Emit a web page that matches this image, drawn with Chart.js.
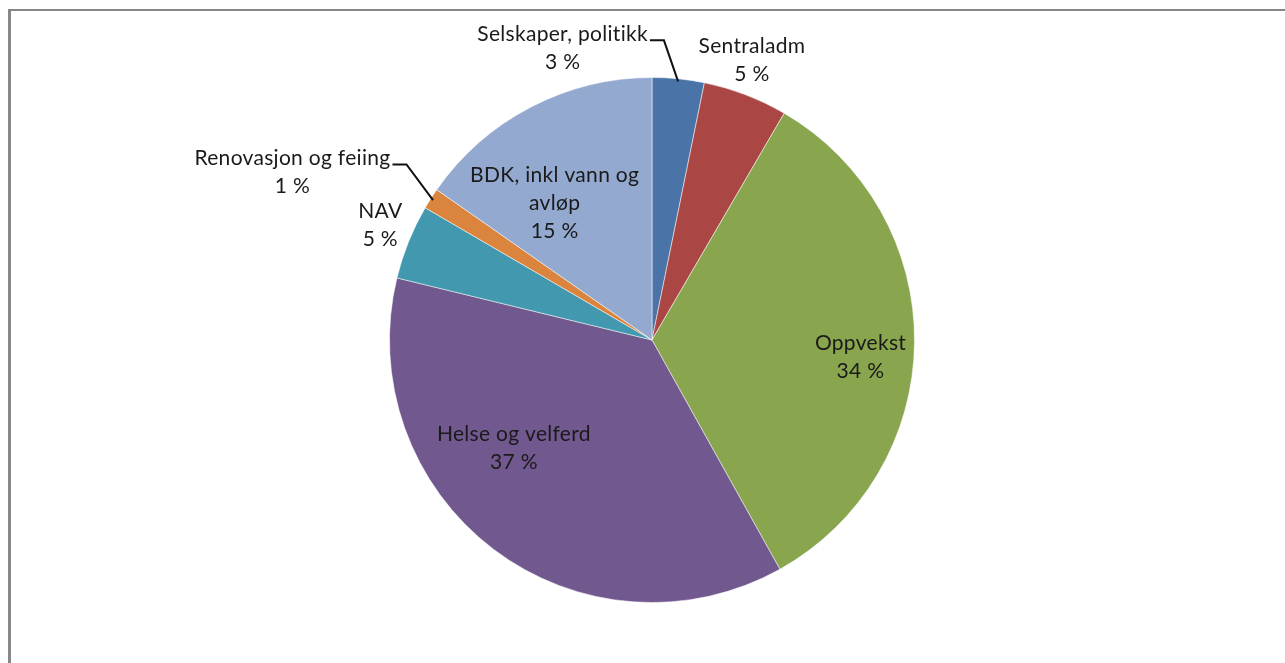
<!DOCTYPE html>
<html>
<head>
<meta charset="utf-8">
<script src="https://cdn.jsdelivr.net/npm/chart.js@4"></script>
<style>
  body { margin: 0; background: #fff; overflow: hidden; }
  #wrap { position: absolute; left: 0; top: 0; width: 1285px; height: 663px; }
  #frame { position: absolute; left: 8px; top: 9px; width: 1300px; height: 700px;
           border-left: 3px solid #878787; border-top: 2px solid #878787; }
  canvas { position: absolute; left: 0; top: 0; }
</style>
</head>
<body>
<div id="wrap">
  <div id="frame"></div>
  <canvas id="myChart" width="1285" height="663"></canvas>
</div>
<script>
// Categories and shares (percent)
const categories = ['Selskaper, politikk', 'Sentraladm', 'Oppvekst', 'Helse og velferd', 'NAV', 'Renovasjon og feiing', 'BDK, inkl vann og avløp'];
const shares = [3.2, 5.2, 33.5, 36.9, 4.6, 1.3, 15.3];
const sliceColors = ['#4A73A8', '#AA4643', '#89A54E', '#71588F', '#4198AF', '#DB843D', '#93A9CF'];

// How each label is written and where it sits relative to its slice
const labelLines = [['Selskaper, politikk'], ['Sentraladm'], ['Oppvekst'], ['Helse og velferd'], ['NAV'], ['Renovasjon og feiing'], ['BDK, inkl vann og', 'avløp']];
const labelShift = [-22.8, -1.2, 4.2, 14.6, 1.0, -7.6, -8.0];   // degrees from slice middle
const labelRadius = [1.162, 1.131, 0.797, 0.669, 1.124, 1.511, 0.638];
const hasLeader = [true, false, false, false, false, true, false];

const lineHeight = 28;

// Plugin to draw the slice labels and leader lines
const sliceLabels = {
    id: 'sliceLabels',
    afterDatasetsDraw(chart) {
        const ctx = chart.ctx;
        const meta = chart.getDatasetMeta(0);
        ctx.save();
        ctx.font = '21px Lato';
        ctx.letterSpacing = '0.3px';   // also stops the "ti" ligature
        ctx.fillStyle = '#1a1a1a';
        ctx.textAlign = 'center';
        ctx.textBaseline = 'middle';
        meta.data.forEach((arc, i) => {
            const p = arc.getProps(['x', 'y', 'startAngle', 'endAngle', 'outerRadius'], true);
            const mid = (p.startAngle + p.endAngle) / 2;
            const a = mid + labelShift[i] * Math.PI / 180;
            const r = p.outerRadius * labelRadius[i];
            const cx = p.x + Math.cos(a) * r;
            const cy = p.y + Math.sin(a) * r;
            const lines = labelLines[i].concat([Math.round(shares[i]) + ' %']);
            const top = cy - (lines.length - 1) * lineHeight / 2;
            lines.forEach((t, k) => ctx.fillText(t, cx, top + k * lineHeight));

            if (hasLeader[i]) {
                const w = ctx.measureText(lines[0]).width;
                const sx = cx + w / 2 + 2;
                const sy = top + 6;
                const ex = p.x + Math.cos(mid) * p.outerRadius * 0.99;
                const ey = p.y + Math.sin(mid) * p.outerRadius * 0.99;
                ctx.beginPath();
                ctx.moveTo(sx, sy);
                ctx.lineTo(sx + 14, sy);
                ctx.lineTo(ex, ey);
                ctx.strokeStyle = '#111';
                ctx.lineWidth = 2;
                ctx.stroke();
            }
        });
        ctx.restore();
    }
};

// Initialize the chart
const ctx = document.getElementById('myChart').getContext('2d');
const chart = new Chart(ctx, {
    type: 'pie',
    data: {
        labels: categories,
        datasets: [{
            data: shares,
            backgroundColor: sliceColors,
            borderColor: 'rgba(255,255,255,0.5)',
            borderWidth: 1
        }]
    },
    options: {
        responsive: false,
        animation: false,
        layout: { padding: { top: 77, bottom: 60, left: 19, right: 0 } },
        plugins: {
            legend: { display: false },
            tooltip: { enabled: false }
        }
    },
    plugins: [sliceLabels]
});
</script>
</body>
</html>
